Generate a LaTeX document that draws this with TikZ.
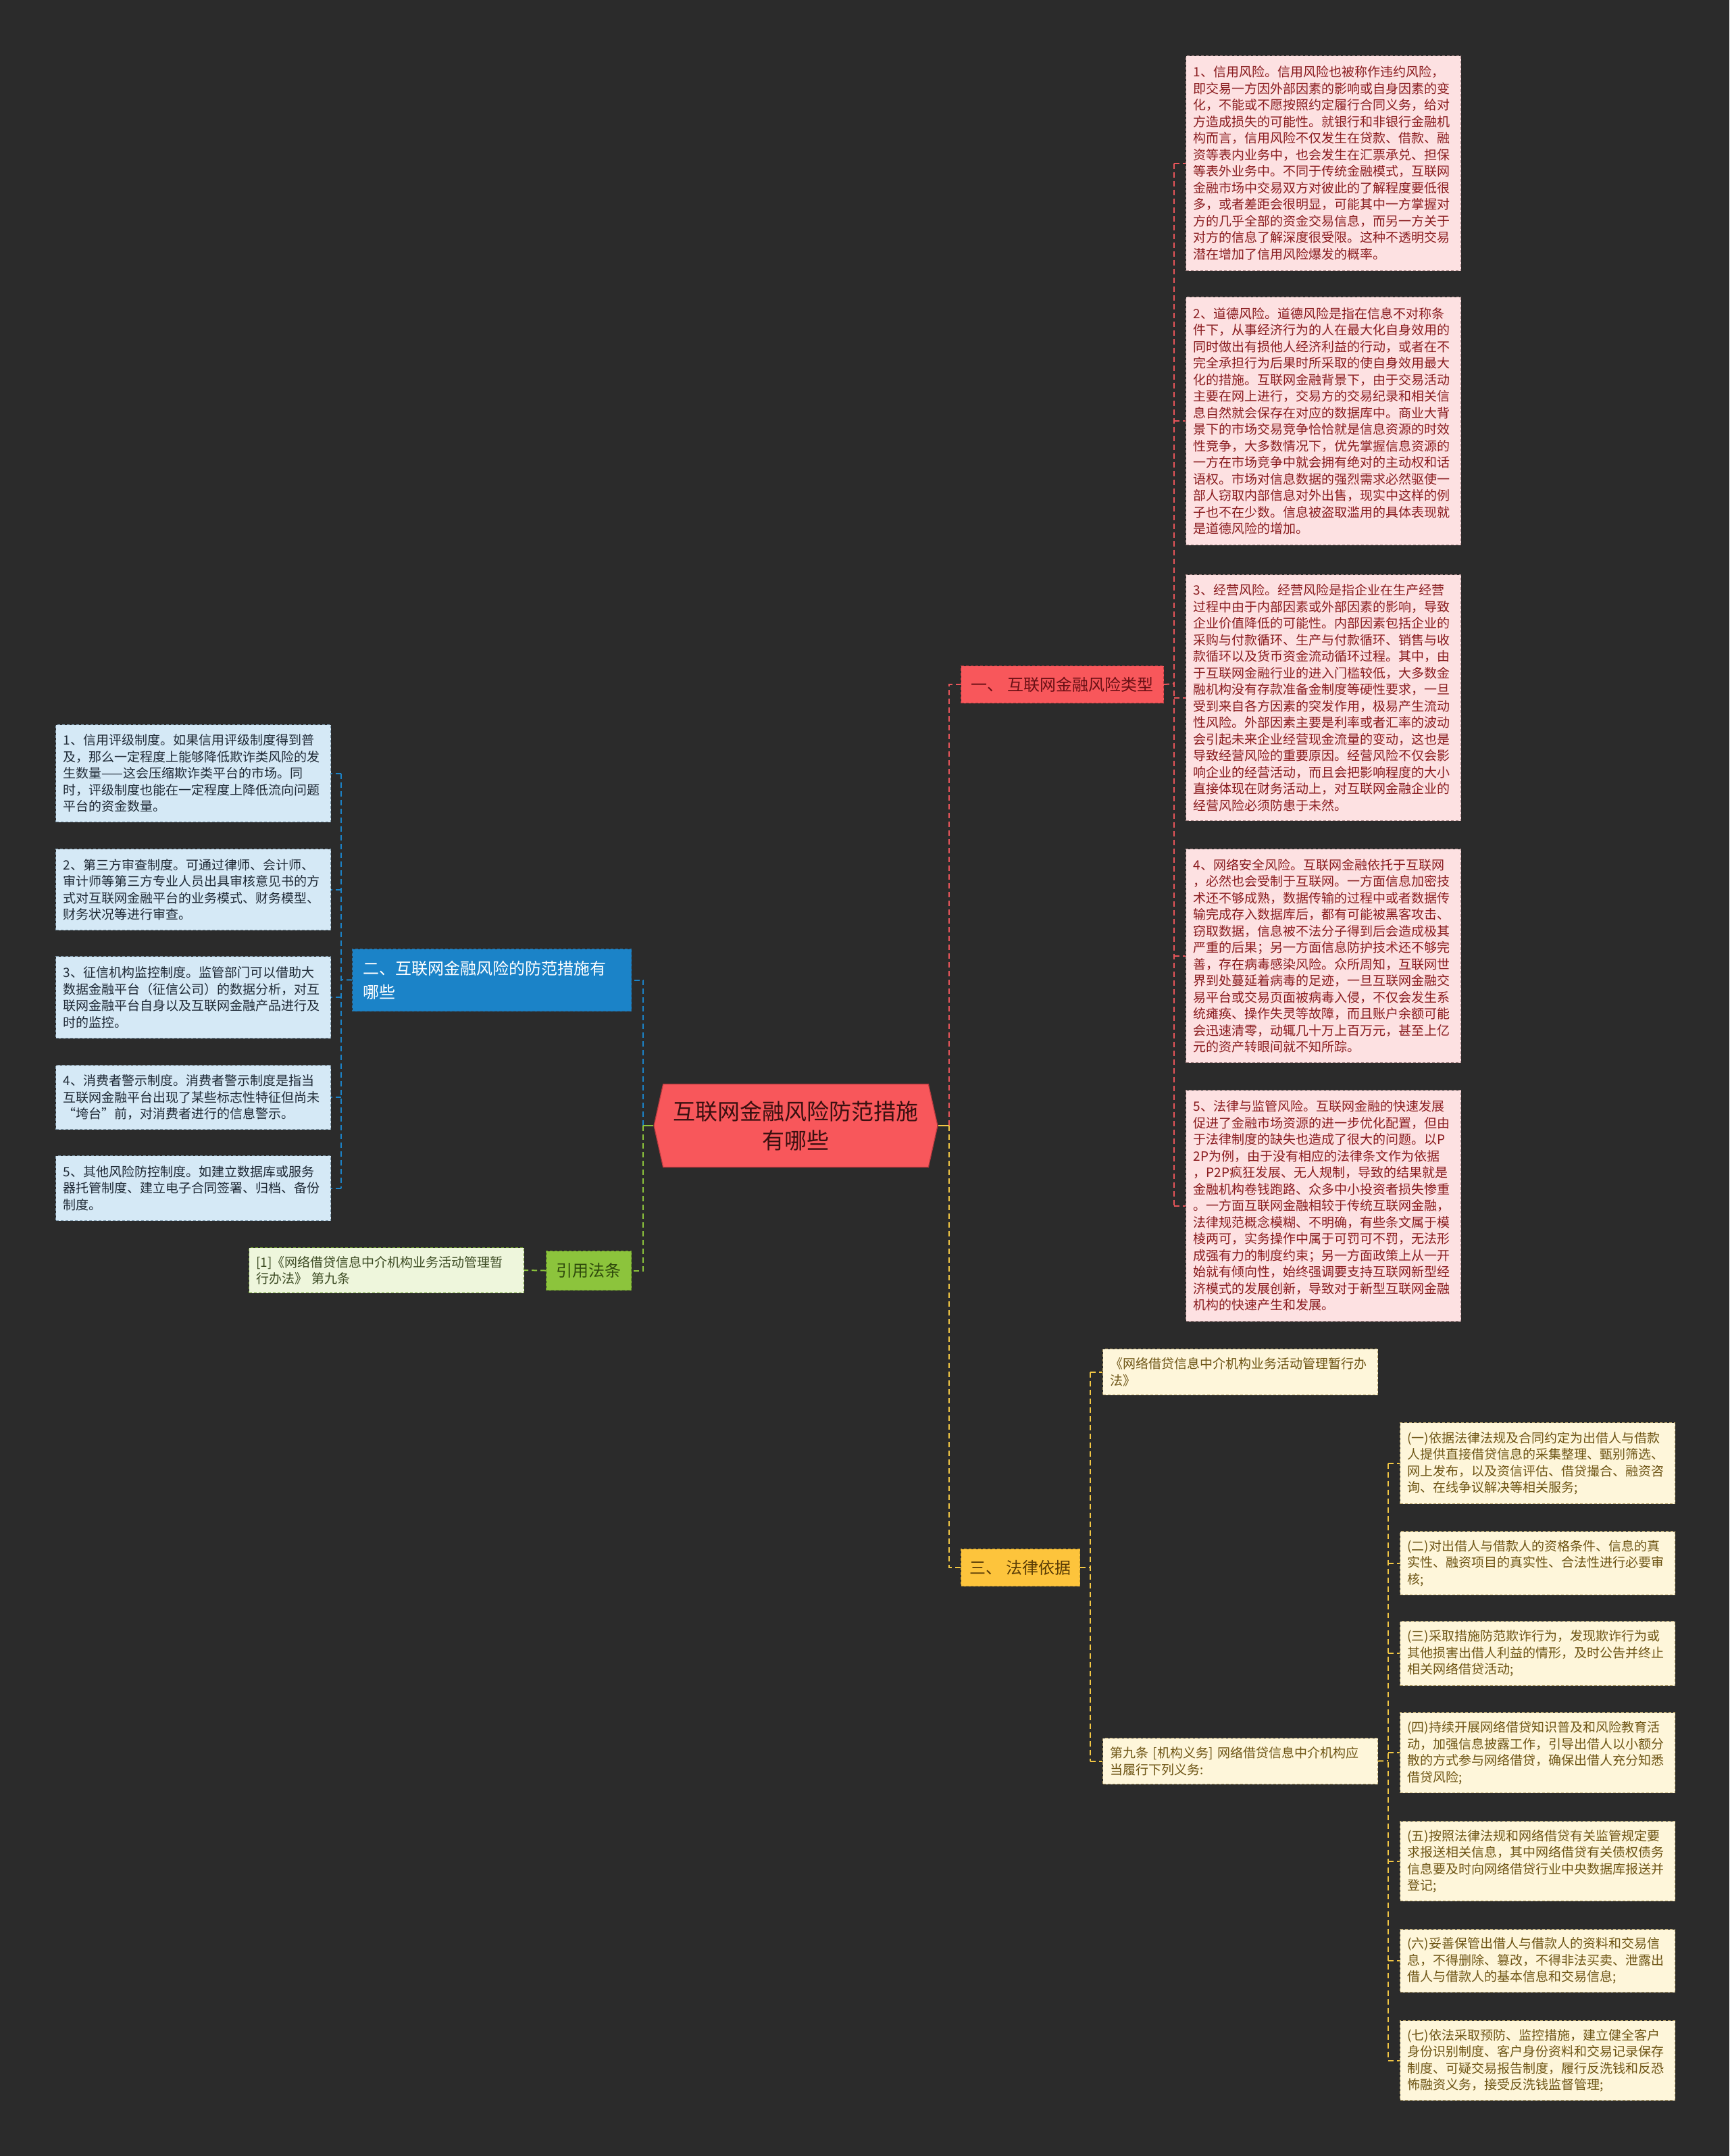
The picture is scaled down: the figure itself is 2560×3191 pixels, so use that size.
\documentclass[tikz,border=0pt]{standalone}
\usepackage{fontspec}
\setmainfont{Noto Sans CJK SC}
\usetikzlibrary{shapes.symbols}
\definecolor{bg}{HTML}{2B2B2B}
\definecolor{coral}{HTML}{F8575B}
\definecolor{coraldraw}{HTML}{B83A3E}
\definecolor{redline}{HTML}{E9555A}
\definecolor{centertext}{HTML}{3A1010}
\definecolor{bonetext}{HTML}{6A1015}
\definecolor{bluebr}{HTML}{1B83C8}
\definecolor{bluebrdraw}{HTML}{2C6E9C}
\definecolor{yelbr}{HTML}{FDC43C}
\definecolor{yelbrdraw}{HTML}{C49A2A}
\definecolor{yeltext}{HTML}{5A3C05}
\definecolor{yelline}{HTML}{F2C744}
\definecolor{greenbr}{HTML}{8CC43C}
\definecolor{greenbrdraw}{HTML}{6A9A2A}
\definecolor{greentext}{HTML}{2F4A0C}
\definecolor{pinkfill}{HTML}{FDE1E2}
\definecolor{pinktext}{HTML}{8A1C1F}
\definecolor{pinkdraw}{HTML}{A88888}
\definecolor{bluefill}{HTML}{D5E9F6}
\definecolor{bluetext}{HTML}{1F2A36}
\definecolor{bluedraw}{HTML}{7E98AA}
\definecolor{creamfill}{HTML}{FEF6DA}
\definecolor{creamtext}{HTML}{6E5515}
\definecolor{creamdraw}{HTML}{B8A46A}
\definecolor{glfill}{HTML}{EEF6DC}
\definecolor{gltext}{HTML}{3B4A22}
\tikzset{
  leaf/.style={rectangle, anchor=north west, align=left, inner xsep=5.5pt, inner ysep=0pt,
    text width=192.5pt, minimum width=203.5pt, line width=0.5pt,
    dash pattern=on 2pt off 1.5pt, font=\fontsize{9.5}{12.25}\selectfont},
  pinkleaf/.style={leaf, fill=pinkfill, draw=pinkdraw, text=pinktext},
  blueleaf/.style={leaf, fill=bluefill, draw=bluedraw, text=bluetext},
  creamleaf/.style={leaf, fill=creamfill, draw=creamdraw, text=creamtext},
  greenleaf/.style={leaf, fill=glfill, draw=greenbrdraw, text=gltext},
  branch/.style={rectangle, anchor=north west, inner sep=0pt, line width=0.5pt,
    dash pattern=on 2pt off 1.5pt, font=\fontsize{12}{17.5}\selectfont},
  rootnode/.style={shape=signal, signal to=east and west, signal pointer angle=155,
    minimum width=210pt, minimum height=61.5pt, inner sep=0pt, fill=coral, draw=coraldraw,
    line width=0.6pt, text=centertext, align=center, font=\fontsize{16.5}{21.5}\selectfont},
  conn/.style={line width=1pt, dash pattern=on 4pt off 2.5pt}
}
\begin{document}
\begin{tikzpicture}[x=0.5pt,y=-0.5pt]
\fill[bg] (0,0) rectangle (2560,3191);
\useasboundingbox (0,0) rectangle (2560,3191);

% root
\node[rootnode] (c) at (1178,1666) {互联网金融风险防范措施\\有哪些};

% branches
\node[branch, fill=coral, draw=coraldraw, text=bonetext, minimum width=150pt, minimum height=27.5pt] (b1) at (1422,985) {一、\ 互联网金融风险类型};
\node[branch, fill=bluebr, draw=bluebrdraw, text=white, align=left, text width=190.5pt, inner xsep=8pt, minimum width=206.5pt, minimum height=46pt] (b2) at (521,1404) {二、互联网金融风险的防范措施有\\哪些};
\node[branch, fill=yelbr, draw=yelbrdraw, text=yeltext, minimum width=88pt, minimum height=27.5pt] (b3) at (1422,2292) {三、\ 法律依据};
\node[branch, fill=greenbr, draw=greenbrdraw, text=greentext, minimum width=63pt, minimum height=29pt] (g) at (808,1851) {引用法条};

% pink leaves
\node[pinkleaf, minimum height=159pt] (p1) at (1755,82) {1、信用风险。信用风险也被称作违约风险，\\即交易一方因外部因素的影响或自身因素的变\\化，不能或不愿按照约定履行合同义务，给对\\方造成损失的可能性。就银行和非银行金融机\\构而言，信用风险不仅发生在贷款、借款、融\\资等表内业务中，也会发生在汇票承兑、担保\\等表外业务中。不同于传统金融模式，互联网\\金融市场中交易双方对彼此的了解程度要低很\\多，或者差距会很明显，可能其中一方掌握对\\方的几乎全部的资金交易信息，而另一方关于\\对方的信息了解深度很受限。这种不透明交易\\潜在增加了信用风险爆发的概率。};
\node[pinkleaf, minimum height=183.5pt] (p2) at (1755,439) {2、道德风险。道德风险是指在信息不对称条\\件下，从事经济行为的人在最大化自身效用的\\同时做出有损他人经济利益的行动，或者在不\\完全承担行为后果时所采取的使自身效用最大\\化的措施。互联网金融背景下，由于交易活动\\主要在网上进行，交易方的交易纪录和相关信\\息自然就会保存在对应的数据库中。商业大背\\景下的市场交易竞争恰恰就是信息资源的时效\\性竞争，大多数情况下，优先掌握信息资源的\\一方在市场竞争中就会拥有绝对的主动权和话\\语权。市场对信息数据的强烈需求必然驱使一\\部人窃取内部信息对外出售，现实中这样的例\\子也不在少数。信息被盗取滥用的具体表现就\\是道德风险的增加。};
\node[pinkleaf, minimum height=182pt] (p3) at (1755,850) {3、经营风险。经营风险是指企业在生产经营\\过程中由于内部因素或外部因素的影响，导致\\企业价值降低的可能性。内部因素包括企业的\\采购与付款循环、生产与付款循环、销售与收\\款循环以及货币资金流动循环过程。其中，由\\于互联网金融行业的进入门槛较低，大多数金\\融机构没有存款准备金制度等硬性要求，一旦\\受到来自各方因素的突发作用，极易产生流动\\性风险。外部因素主要是利率或者汇率的波动\\会引起未来企业经营现金流量的变动，这也是\\导致经营风险的重要原因。经营风险不仅会影\\响企业的经营活动，而且会把影响程度的大小\\直接体现在财务活动上，对互联网金融企业的\\经营风险必须防患于未然。};
\node[pinkleaf, minimum height=158pt] (p4) at (1755,1256) {4、网络安全风险。互联网金融依托于互联网\\，必然也会受制于互联网。一方面信息加密技\\术还不够成熟，数据传输的过程中或者数据传\\输完成存入数据库后，都有可能被黑客攻击、\\窃取数据，信息被不法分子得到后会造成极其\\严重的后果；另一方面信息防护技术还不够完\\善，存在病毒感染风险。众所周知，互联网世\\界到处蔓延着病毒的足迹，一旦互联网金融交\\易平台或交易页面被病毒入侵，不仅会发生系\\统瘫痪、操作失灵等故障，而且账户余额可能\\会迅速清零，动辄几十万上百万元，甚至上亿\\元的资产转眼间就不知所踪。};
\node[pinkleaf, minimum height=171pt] (p5) at (1755,1613) {5、法律与监管风险。互联网金融的快速发展\\促进了金融市场资源的进一步优化配置，但由\\于法律制度的缺失也造成了很大的问题。以P\\2P为例，由于没有相应的法律条文作为依据\\，P2P疯狂发展、无人规制，导致的结果就是\\金融机构卷钱跑路、众多中小投资者损失惨重\\。一方面互联网金融相较于传统互联网金融，\\法律规范概念模糊、不明确，有些条文属于模\\棱两可，实务操作中属于可罚可不罚，无法形\\成强有力的制度约束；另一方面政策上从一开\\始就有倾向性，始终强调要支持互联网新型经\\济模式的发展创新，导致对于新型互联网金融\\机构的快速产生和发展。};

% blue leaves
\node[blueleaf, minimum height=72pt] (bl1) at (82,1072) {1、信用评级制度。如果信用评级制度得到普\\及，那么一定程度上能够降低欺诈类风险的发\\生数量——这会压缩欺诈类平台的市场。同\\时，评级制度也能在一定程度上降低流向问题\\平台的资金数量。};
\node[blueleaf, minimum height=60pt] (bl2) at (82,1256) {2、第三方审查制度。可通过律师、会计师、\\审计师等第三方专业人员出具审核意见书的方\\式对互联网金融平台的业务模式、财务模型、\\财务状况等进行审查。};
\node[blueleaf, minimum height=60.5pt] (bl3) at (82,1415) {3、征信机构监控制度。监管部门可以借助大\\数据金融平台（征信公司）的数据分析，对互\\联网金融平台自身以及互联网金融产品进行及\\时的监控。};
\node[blueleaf, minimum height=47.5pt] (bl4) at (82,1576) {4、消费者警示制度。消费者警示制度是指当\\互联网金融平台出现了某些标志性特征但尚未\\“垮台”前，对消费者进行的信息警示。};
\node[blueleaf, minimum height=48pt] (bl5) at (82,1710) {5、其他风险防控制度。如建立数据库或服务\\器托管制度、建立电子合同签署、归档、备份\\制度。};

% green leaf
\node[greenleaf, minimum height=33.5pt] (gl) at (368,1846) {[1]《网络借贷信息中介机构业务活动管理暂\\行办法》 第九条};

% cream leaves
\node[creamleaf, minimum height=34pt] (y1) at (1632,1996) {《网络借贷信息中介机构业务活动管理暂行办\\法》};
\node[creamleaf, minimum height=34pt] (y2) at (1632,2572) {第九条 [机构义务] 网络借贷信息中介机构应\\当履行下列义务:};
\node[creamleaf, minimum height=60pt] (z1) at (2072,2105) {(一)依据法律法规及合同约定为出借人与借款\\人提供直接借贷信息的采集整理、甄别筛选、\\网上发布，以及资信评估、借贷撮合、融资咨\\询、在线争议解决等相关服务;};
\node[creamleaf, minimum height=47pt] (z2) at (2072,2266) {(二)对出借人与借款人的资格条件、信息的真\\实性、融资项目的真实性、合法性进行必要审\\核;};
\node[creamleaf, minimum height=47.5pt] (z3) at (2072,2399) {(三)采取措施防范欺诈行为，发现欺诈行为或\\其他损害出借人利益的情形，及时公告并终止\\相关网络借贷活动;};
\node[creamleaf, minimum height=59.5pt] (z4) at (2072,2534) {(四)持续开展网络借贷知识普及和风险教育活\\动，加强信息披露工作，引导出借人以小额分\\散的方式参与网络借贷，确保出借人充分知悉\\借贷风险;};
\node[creamleaf, minimum height=59pt] (z5) at (2072,2695) {(五)按照法律法规和网络借贷有关监管规定要\\求报送相关信息，其中网络借贷有关债权债务\\信息要及时向网络借贷行业中央数据库报送并\\登记;};
\node[creamleaf, minimum height=46.5pt] (z6) at (2072,2855) {(六)妥善保管出借人与借款人的资料和交易信\\息，不得删除、篡改，不得非法买卖、泄露出\\借人与借款人的基本信息和交易信息;};
\node[creamleaf, minimum height=59pt] (z7) at (2072,2990) {(七)依法采取预防、监控措施，建立健全客户\\身份识别制度、客户身份资料和交易记录保存\\制度、可疑交易报告制度，履行反洗钱和反恐\\怖融资义务，接受反洗钱监督管理;};

% junction points
\coordinate (jR) at (1405,1666);
\coordinate (jL) at (952,1666);
\coordinate (jP) at (1738,1012);
\coordinate (jB) at (505,1450);
\coordinate (jY) at (1614,2320);
\coordinate (jZ) at (2055,2606);

% root right side
\draw[conn, redline] (jR) -- (jR |- b1.west) -- (b1.west);
\draw[conn, yelline] (jR) -- (jR |- b3.west) -- (b3.west);
\draw[line width=1pt, yelline] (c.east) -- (jR);
% root left side
\draw[conn, bluebr] (jL) -- (jL |- b2.east) -- (b2.east);
\draw[conn, greenbr] (jL) -- (jL |- g.east) -- (g.east);
\draw[line width=1pt, greenbr] (c.west) -- (jL);

% pink group
\draw[conn, redline] (b1.east) -- (jP);
\draw[conn, redline] (jP |- p1.west) -- (jP |- p5.west);
\foreach \n in {p1,p2,p3,p4,p5} \draw[conn, redline] (jP |- \n.west) -- (\n.west);

% blue group
\draw[conn, bluebr] (b2.west) -- (jB);
\draw[conn, bluebr] (jB |- bl1.east) -- (jB |- bl5.east);
\foreach \n in {bl1,bl2,bl3,bl4,bl5} \draw[conn, bluebr] (jB |- \n.east) -- (\n.east);

% green
\draw[conn, greenbr] (g.west) -- (gl.east);

% yellow group
\draw[conn, yelline] (b3.east) -- (jY);
\draw[conn, yelline] (jY |- y1.west) -- (jY |- y2.west);
\foreach \n in {y1,y2} \draw[conn, yelline] (jY |- \n.west) -- (\n.west);
\draw[conn, yelline] (y2.east) -- (jZ);
\draw[conn, yelline] (jZ |- z1.west) -- (jZ |- z7.west);
\foreach \n in {z1,z2,z3,z4,z5,z6,z7} \draw[conn, yelline] (jZ |- \n.west) -- (\n.west);
\end{tikzpicture}
\end{document}
